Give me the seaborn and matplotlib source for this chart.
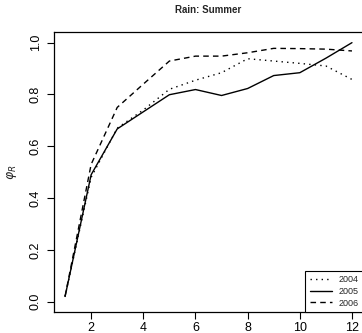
import matplotlib
matplotlib.use("Agg")
import matplotlib.pyplot as plt
import numpy as np
import pandas as pd
import seaborn as sns

months = [1, 2, 3, 4, 5, 6, 7, 8, 9, 10, 11, 12]
y2004 = [0.02, 0.48, 0.67, 0.74, 0.82, 0.855, 0.884, 0.938, 0.929, 0.92, 0.91, 0.858]
y2005 = [0.02, 0.49, 0.667, 0.733, 0.799, 0.819, 0.796, 0.823, 0.873, 0.884, 0.94, 1.0]
y2006 = [0.02, 0.53, 0.75, 0.84, 0.929, 0.948, 0.948, 0.961, 0.978, 0.977, 0.975, 0.968]
years = ["2004", "2005", "2006"]
styles = [(0, (1, 3)), "-", (0, (4, 3))]

sns.set_style("ticks")
plt.rcParams['font.family'] = ['Liberation Sans', 'DejaVu Sans']

fig = plt.figure(figsize=(3.62, 3.33), dpi=100)
ax = fig.add_axes([0.148, 0.063, 0.856, 0.840])

for yr, vals, ls in zip(years, [y2004, y2005, y2006], styles):
    df = pd.DataFrame({"x": months, "y": vals})
    sns.lineplot(data=df, x="x", y="y", ax=ax, color="black", linestyle=ls,
                 linewidth=1.0, label=yr)

ax.set_xlim(0.56, 12.44)
ax.set_ylim(-0.04, 1.04)
ax.set_xticks([2, 4, 6, 8, 10, 12])
ax.set_yticks([0.0, 0.2, 0.4, 0.6, 0.8, 1.0])
ax.set_yticklabels(["0.0", "0.2", "0.4", "0.6", "0.8", "1.0"], rotation=90, va="center")
ax.tick_params(labelsize=9, length=5, width=0.8, colors="black")
ax.tick_params(axis="x", pad=2)
ax.set_xlabel("")
ax.set_ylabel(r"$\varphi_R$", fontsize=9, labelpad=8)
ax.set_title("Rain: Summer", fontsize=7, fontweight="bold", pad=14)
for s in ["left", "bottom", "top", "right"]:
    ax.spines[s].set_visible(True)
    ax.spines[s].set_color("black")
    ax.spines[s].set_linewidth(0.9)

leg = ax.legend(loc="lower right", fontsize=6.5, frameon=True, fancybox=False,
                handlelength=2.4, handletextpad=0.8, borderpad=0.5,
                labelspacing=0.3, borderaxespad=0.0)
leg.get_frame().set_edgecolor("black")
leg.get_frame().set_linewidth(0.8)
leg.get_frame().set_alpha(1)

fig.savefig("out.png", dpi=100)
